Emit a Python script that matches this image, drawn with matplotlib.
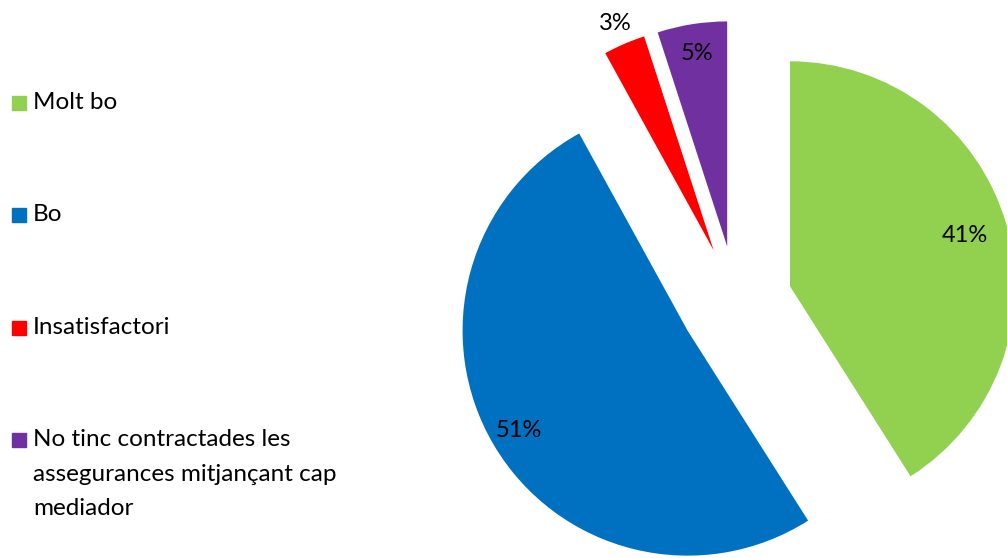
import matplotlib
matplotlib.use('Agg')
import matplotlib.pyplot as plt
import numpy as np

# Dades de l'enquesta
categories = ['Molt bo', 'Bo', 'Insatisfactori',
              'No tinc contractades les\nassegurances mitjançant cap\nmediador']
values = [41, 51, 3, 5]
colors = ['#92D050', '#0070C0', '#FF0000', '#7030A0']

plt.rcParams['font.family'] = ['Lato', 'DejaVu Sans']

W, H = 1007, 558
fig = plt.figure(figsize=(W / 100, H / 100), dpi=100)
fig.patch.set_facecolor('white')
ax = fig.add_axes([0, 0, 1, 1])

wedges, texts, autotexts = ax.pie(values, colors=colors, startangle=90,
                                  counterclock=False, explode=[0.25] * 4,
                                  radius=1, autopct='%1.0f%%',
                                  wedgeprops=dict(linewidth=0),
                                  textprops=dict(fontsize=17, color='black'))

# label distance per slice (the small red one sits outside)
label_dist = [0.81, 0.87, 1.1, 0.87]
for w, t, d in zip(wedges, autotexts, label_dist):
    mid = np.deg2rad((w.theta1 + w.theta2) / 2)
    cx, cy = w.center
    t.set_position((cx + d * np.cos(mid), cy + d * np.sin(mid)))
    t.set_ha('center')
    t.set_va('center')

# pixel scale: 225 px per unit radius, centre at (736, 302)
scale = 225.0
cx_px, cy_px = 736, 302
ax.set_xlim(-cx_px / scale, (W - cx_px) / scale)
ax.set_ylim(-(H - cy_px) / scale, cy_px / scale)
ax.set_aspect('equal')
ax.axis('off')

# legend on the left
legend_y = [103, 215, 328, 440]
for lab, col, y in zip(categories, colors, legend_y):
    fig.patches.append(plt.Rectangle((12 / W, 1 - (y + 7) / H), 14 / W, 14 / H,
                                     transform=fig.transFigure, color=col,
                                     figure=fig))
    fig.text(33 / W, 1 - (y - 11) / H, lab, fontsize=17.5, va='top', ha='left',
             linespacing=1.8)

fig.savefig('out.png', dpi=100)
